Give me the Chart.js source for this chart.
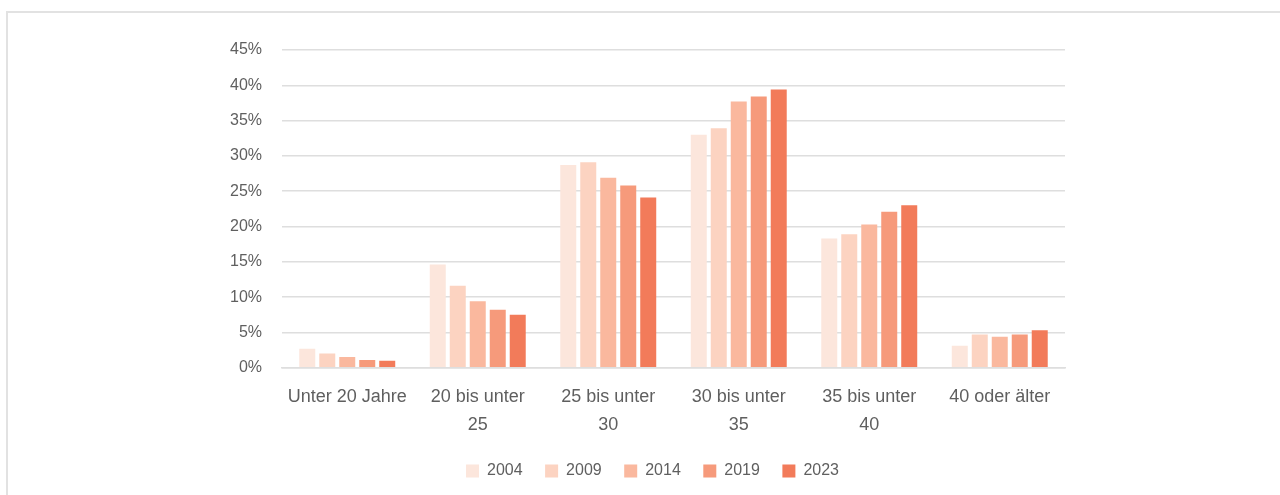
<!DOCTYPE html>
<html lang="de">
  <head>
    <meta charset="UTF-8" />
    <title>Altersverteilung</title>
    <script src="https://cdn.jsdelivr.net/npm/chart.js"></script>
    <style>
      html, body { margin: 0; padding: 0; background: #fff; }
      .rahmen {
        position: absolute; left: 6px; top: 11px; width: 1290px; height: 520px;
        border: 2px solid #e2e2e2; box-sizing: border-box;
      }
      .box { position: absolute; left: 0; top: 0; width: 1280px; height: 495px; }
    </style>
  </head>
  <body>
    <div class="rahmen"></div>
    <div class="box"><canvas id="balken"></canvas></div>

<script>
  // Kategorien und Werte (Anteile in %)
  const kategorien = [
    "Unter 20 Jahre",
    ["20 bis unter", "25"],
    ["25 bis unter", "30"],
    ["30 bis unter", "35"],
    ["35 bis unter", "40"],
    "40 oder älter",
  ];
  const jahre = ["2004", "2009", "2014", "2019", "2023"];
  const farben = ["#fce6dc", "#fcd3c1", "#fab89e", "#f69a7b", "#f27b5a"];

  const werte2004 = [2.7, 14.6, 28.7, 33.0, 18.3, 3.1];
  const werte2009 = [2.0, 11.6, 29.1, 33.9, 18.9, 4.7];
  const werte2014 = [1.5, 9.4, 26.9, 37.7, 20.3, 4.4];
  const werte2019 = [1.1, 8.2, 25.8, 38.4, 22.1, 4.7];
  const werte2023 = [1.0, 7.5, 24.1, 39.4, 23.0, 5.3];
  const alleWerte = [werte2004, werte2009, werte2014, werte2019, werte2023];

  const yTicks = [0, 5, 10, 15, 20, 25, 30, 35, 40, 45];

  Chart.defaults.font.family = "'Liberation Sans', Arial, sans-serif";
  Chart.defaults.color = "#5f5f5f";

  // Legende etwas nach rechts schieben (sitzt im Original nicht mittig zur Seite)
  const legendeVerschieben = {
    id: "legendeVerschieben",
    afterInit(chart) {
      const lg = chart.legend;
      const orig = lg.draw.bind(lg);
      lg.draw = function () {
        this.ctx.save();
        this.ctx.translate(20, 0);
        orig();
        this.ctx.restore();
      };
    },
  };

  const ctx = document.getElementById("balken").getContext("2d");
  const chart = new Chart(ctx, {
    type: "bar",
    data: {
      labels: kategorien,
      datasets: jahre.map((j, i) => ({
        label: j,
        data: alleWerte[i],
        backgroundColor: farben[i],
        categoryPercentage: 0.766,
        barPercentage: 0.8,
      })),
    },
    options: {
      responsive: true,
      maintainAspectRatio: false,
      animation: false,
      layout: { padding: { left: 200, right: 215, top: 50, bottom: 6 } },
      plugins: {
        tooltip: { enabled: false },
        legend: {
          position: "bottom",
          labels: {
            boxWidth: 13,
            boxHeight: 13,
            padding: 22.5,
            font: { size: 16 },
            color: "#5f5f5f",
          },
        },
      },
      scales: {
        x: {
          grid: { display: false },
          border: { color: "#dedede", width: 1.5 },
          afterFit: (s) => { s.height -= 5; },
          ticks: {
            font: { size: 18, lineHeight: 1.55 },
            padding: 7,
            maxRotation: 0,
            autoSkip: false,
          },
        },
        y: {
          min: 0,
          max: 45,
          afterBuildTicks: (s) => { s.ticks = yTicks.map((v) => ({ value: v })); },
          afterFit: (s) => { s.width = 82; },
          grid: { color: "#dedede", lineWidth: 1.5, drawTicks: false },
          border: { display: false },
          ticks: {
            font: { size: 16 },
            padding: 20,
            callback: (v) => v + "%",
          },
        },
      },
    },
    plugins: [legendeVerschieben],
  });
</script>
  </body>
</html>
